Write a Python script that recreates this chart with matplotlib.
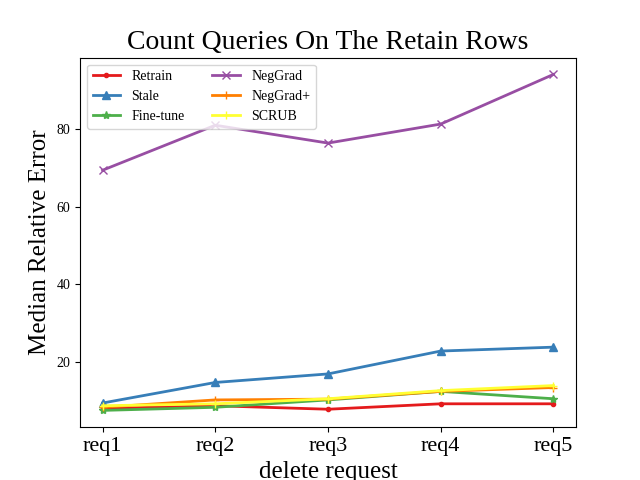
import matplotlib
matplotlib.use("Agg")
import matplotlib.pyplot as plt

plt.rcParams['font.family'] = ['Liberation Serif', 'DejaVu Serif']

requests = ["req1", "req2", "req3", "req4", "req5"]
retrain = [8.0, 8.7, 7.8, 9.2, 9.2]
stale = [9.4, 14.7, 16.9, 22.8, 23.8]
finetune = [7.5, 8.3, 10.2, 12.4, 10.5]
neggrad = [69.4, 81.0, 76.4, 81.3, 94.1]
neggrad_plus = [8.3, 10.2, 10.4, 12.4, 13.4]
scrub = [8.7, 9.2, 10.5, 12.6, 13.9]

series = [
    ("Retrain", retrain, "#e41a1c", "."),
    ("Stale", stale, "#377eb8", "^"),
    ("Fine-tune", finetune, "#4daf4a", "*"),
    ("NegGrad", neggrad, "#984ea3", "x"),
    ("NegGrad+", neggrad_plus, "#ff7f00", "+"),
    ("SCRUB", scrub, "#ffff33", "+"),
]

fig, ax = plt.subplots(figsize=(6.4, 4.8), dpi=100)
x = list(range(len(requests)))
for name, vals, col, mk in series:
    ax.plot(x, vals, color=col, marker=mk, linewidth=2, markersize=6, label=name)

ax.set_xticks(x)
ax.set_xticklabels(requests, fontsize=16)
ax.tick_params(axis='y', labelsize=10)
ax.set_xlabel("delete request", fontsize=18)
ax.set_ylabel("Median Relative Error", fontsize=18)
ax.set_title("Count Queries On The Retain Rows", fontsize=20)
ax.legend(loc="upper left", ncol=2, fontsize=10)

fig.savefig("out.png")
